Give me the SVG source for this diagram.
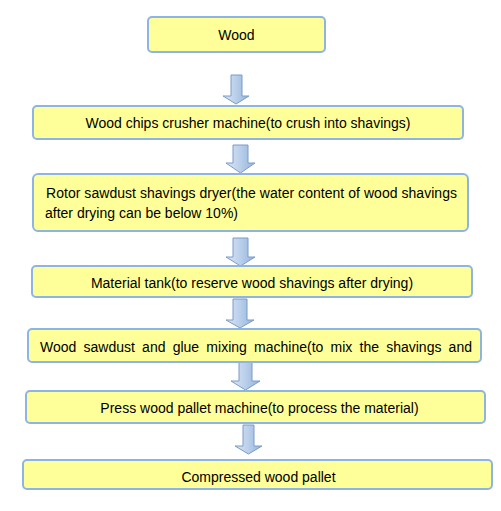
<svg xmlns="http://www.w3.org/2000/svg" width="501" height="511" viewBox="0 0 501 511">
<style>
.box{fill:#FFFF99;stroke:#8EB4E3;stroke-width:2}
.arr{fill:url(#ag);stroke:#7A9CC8;stroke-width:1}
text{font-family:"Liberation Sans",Arial,sans-serif;font-size:14px;fill:#000}
.c{text-anchor:middle}
</style>
<defs>
<linearGradient id="ag" x1="0" y1="0" x2="1" y2="0">
<stop offset="0" stop-color="#DCE6F4"/>
<stop offset="0.5" stop-color="#B9CFEA"/>
<stop offset="1" stop-color="#93B3DB"/>
</linearGradient>
</defs>
<rect width="501" height="511" fill="#fff"/>
<g id="connectors">
<path class="arr" d="M231,75 H242 V96 H249 L236,104 L223,96 H231 Z"/>
<path class="arr" d="M233,145 H248 V163 H255 L240.5,173 L226,163 H233 Z"/>
<path class="arr" d="M233,238 H248 V257 H255 L240.5,266 L226,257 H233 Z"/>
<path class="arr" d="M233,299 H247 V320 H254 L240,328 L226,320 H233 Z"/>
<path class="arr" d="M239,360 H252 V381 H260 L245.5,390 L231,381 H239 Z"/>
<path class="arr" d="M243,425 H254 V446 H262 L248.5,454 L235,446 H243 Z"/>
</g>
<g id="n1"><rect class="box" x="148" y="17" width="177" height="35" rx="4"/><text class="c" x="236.5" y="40">Wood</text></g>
<g id="n2"><rect class="box" x="33" y="106" width="430" height="33" rx="4"/><text class="c" x="248" y="128">Wood chips crusher machine(to crush into shavings)</text></g>
<g id="n3"><rect class="box" x="33" y="174" width="435" height="57" rx="5"/>
<text x="46" y="198" textLength="411" lengthAdjust="spacing">Rotor sawdust shavings dryer(the water content of wood shavings</text>
<text x="45" y="218">after drying can be below 10%)</text></g>
<g id="n4"><rect class="box" x="32" y="266" width="440" height="31" rx="4"/><text class="c" x="252" y="288">Material tank(to reserve wood shavings after drying)</text></g>
<g id="n5"><rect class="box" x="28" y="329" width="453" height="33" rx="4"/><text x="40" y="352" word-spacing="3.3" textLength="432" lengthAdjust="spacing">Wood sawdust and glue mixing machine(to mix the shavings and</text></g>
<g id="n6"><rect class="box" x="26" y="391" width="459" height="32" rx="4"/><text class="c" x="259.5" y="413">Press wood pallet machine(to process the material)</text></g>
<g id="n7"><rect class="box" x="23" y="460" width="469" height="29" rx="4"/><text class="c" x="258.5" y="482">Compressed wood pallet</text></g>
</svg>
